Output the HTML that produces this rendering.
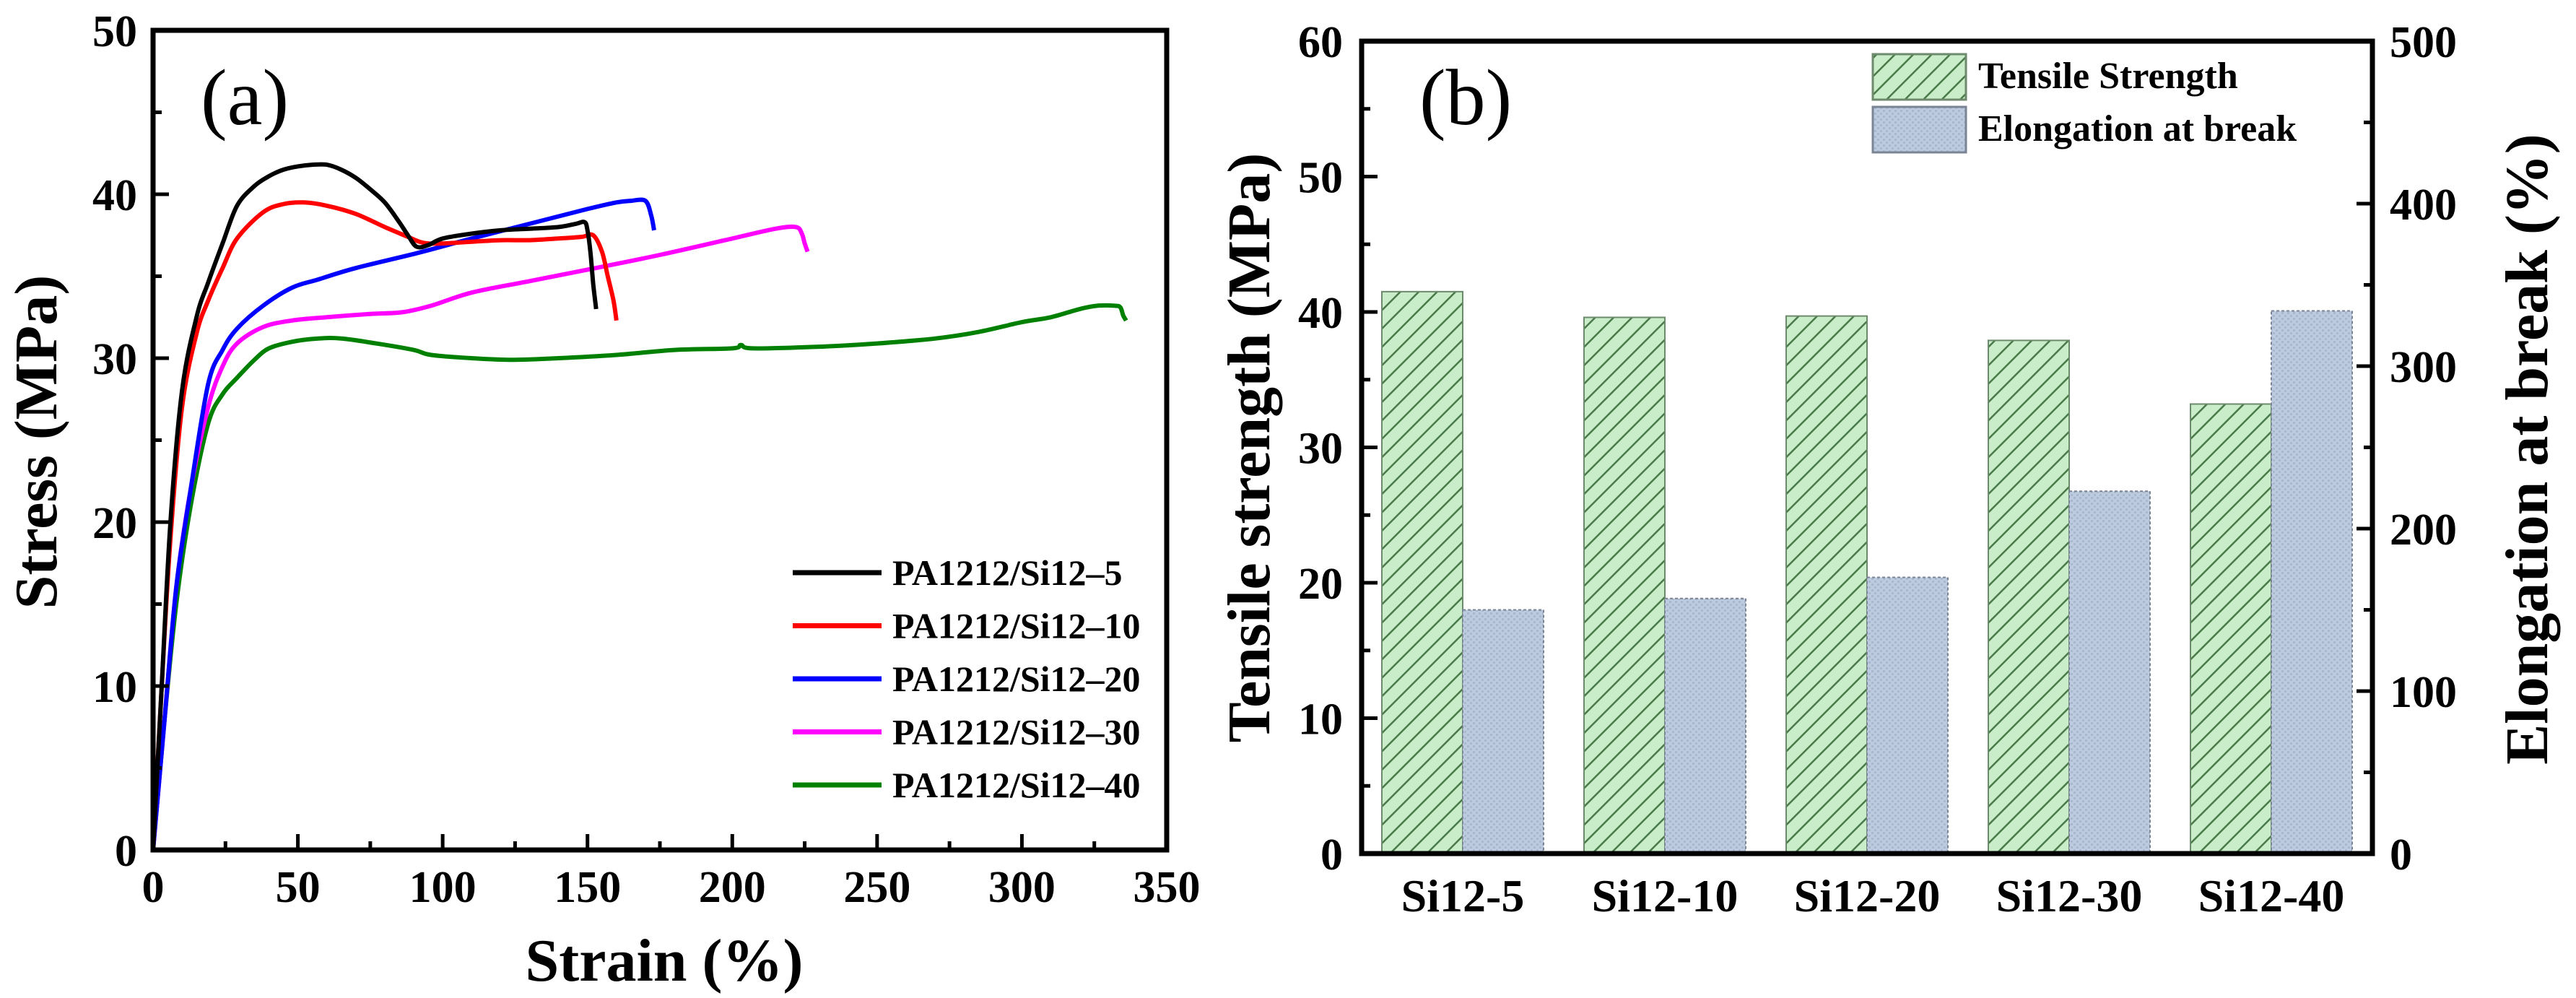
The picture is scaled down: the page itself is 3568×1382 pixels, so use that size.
<!DOCTYPE html>
<html><head><meta charset="utf-8"><style>
html,body{margin:0;padding:0;background:#fff;}
svg{display:block;font-family:"Liberation Serif",serif;}
</style></head><body>
<svg id="fig" width="3568" height="1382" viewBox="0 0 3568 1382" xmlns="http://www.w3.org/2000/svg">
<defs>
<pattern id="hatch" width="18" height="18" patternUnits="userSpaceOnUse" patternTransform="rotate(45)">
<rect width="18" height="18" fill="#c9ecc9"/><line x1="0" y1="0" x2="0" y2="18" stroke="#4a7a4a" stroke-width="5"/></pattern>
<pattern id="dots" width="8" height="8" patternUnits="userSpaceOnUse">
<rect width="8" height="8" fill="#bccbdf"/><rect x="0" y="0" width="3" height="3" fill="#a9b8cc"/><rect x="4" y="4" width="3" height="3" fill="#a9b8cc"/></pattern>
</defs>
<g id="pa"></g>
<g id="pb"></g>
</svg>
<script>
// ---- Panel (a) data ----
const seriesNames=["PA1212/Si12\u20135","PA1212/Si12\u201310","PA1212/Si12\u201320","PA1212/Si12\u201330","PA1212/Si12\u201340"];
const seriesColors=["#000000","#ff0000","#0000ff","#ff00ff","#008000"];
const strain5=[0,3,6,10,15,19,24,29,35,40,45,50,55,60,65,70,75,80,85,88,91,95,100,110,120,130,140,146,149,150,151,152,153];
const stress5=[0,10,20,28,32.5,34.6,37,39.3,40.5,41.1,41.5,41.7,41.8,41.8,41.5,41,40.3,39.5,38.3,37.5,36.8,36.9,37.3,37.6,37.8,37.9,38,38.2,38.3,37.8,36.5,34.5,33];
const strain10=[0,3,6,10,15,19,24,29,38,45,52,60,70,80,88,92,95,100,110,120,130,140,148,152,155,157,159,160];
const stress10=[0,10,19,27,31.5,33.5,35.5,37.3,38.9,39.4,39.5,39.3,38.8,38,37.4,37.1,37,37,37.1,37.2,37.2,37.3,37.4,37.5,36.5,35,33.5,32.3];
const strain20=[0,4,8,13,19,24,29,38,48,57,70,91,110,130,150,160,165,170,172,173];
const stress20=[0,8,16,22,28.4,30.5,31.8,33.2,34.3,34.8,35.5,36.4,37.3,38.2,39.1,39.5,39.6,39.6,38.7,37.8];
const strain30=[0,4,8,13,19,24,29,38,48,60,75,86,96,110,130,150,175,200,215,222,224,225,226];
const stress30=[0,8,16,22,27,29.5,30.9,31.9,32.3,32.5,32.7,32.8,33.2,34,34.7,35.4,36.3,37.3,37.9,38,37.6,37,36.5];
const strain40=[0,4,8,13,19,24,29,35,40,48,57,65,77,90,96,110,124,140,160,180,200,203,207,230,250,270,285,300,310,320,326,332,334,335,336];
const stress40=[0,8,15,21,26,27.8,28.8,29.9,30.6,31,31.2,31.2,30.9,30.5,30.2,30,29.9,30,30.2,30.5,30.6,30.8,30.6,30.7,30.9,31.2,31.6,32.2,32.5,33,33.2,33.2,33.1,32.6,32.3];
const xTicksA=[0,50,100,150,200,250,300,350];
const yTicksA=[0,10,20,30,40,50];
// ---- Panel (b) data ----
const categories=["Si12-5","Si12-10","Si12-20","Si12-30","Si12-40"];
const tensile=[41.5,39.6,39.7,37.9,33.2];
const elongation=[150,157,170,223,334];
const yTicksBL=[0,10,20,30,40,50,60];
const yTicksBR=[0,100,200,300,400,500];

const NS="http://www.w3.org/2000/svg";
function mk(tag,attrs,parent,text){const e=document.createElementNS(NS,tag);for(const k in attrs)e.setAttribute(k,attrs[k]);if(text!==undefined)e.textContent=text;parent.appendChild(e);return e;}
function smooth(pts){
  let d='M'+pts[0][0].toFixed(1)+' '+pts[0][1].toFixed(1);
  for(let i=0;i<pts.length-1;i++){
    const p0=pts[Math.max(0,i-1)],p1=pts[i],p2=pts[i+1],p3=pts[Math.min(pts.length-1,i+2)];
    const c1=[p1[0]+(p2[0]-p0[0])/6,p1[1]+(p2[1]-p0[1])/6];
    const c2=[p2[0]-(p3[0]-p1[0])/6,p2[1]-(p3[1]-p1[1])/6];
    d+=' C'+c1[0].toFixed(1)+' '+c1[1].toFixed(1)+' '+c2[0].toFixed(1)+' '+c2[1].toFixed(1)+' '+p2[0].toFixed(1)+' '+p2[1].toFixed(1);
  }
  return d;
}

// Panel a
const pa=document.getElementById('pa');
const AX0=212,AX1=1616,AY0=1177,AY1=42;
const xa=v=>AX0+(v-0)/350*(AX1-AX0);
const ya=v=>AY0-(v/50)*(AY0-AY1);
const sx=[strain5,strain10,strain20,strain30,strain40], sy=[stress5,stress10,stress20,stress30,stress40];
for(let s=4;s>=0;s--){
  const pts=sx[s].map((v,i)=>[xa(v),ya(sy[s][i])]);
  const p=mk('path',{d:smooth(pts),fill:'none',stroke:seriesColors[s],'stroke-width':6,'stroke-linejoin':'round'},pa);
  
  
}
let fr=mk('rect',{x:AX0,y:AY1,width:AX1-AX0,height:AY0-AY1,fill:'none',stroke:'#000','stroke-width':7},pa);


for(let v=0;v<=350;v+=25){const major=v%50===0;mk('line',{x1:xa(v),x2:xa(v),y1:AY0,y2:AY0-(major?22:12),stroke:'#000','stroke-width':5},pa);}
for(let v=0;v<=50;v+=5){const major=v%10===0;mk('line',{x1:AX0,x2:AX0+(major?22:12),y1:ya(v),y2:ya(v),stroke:'#000','stroke-width':5},pa);}
xTicksA.forEach(v=>{const t=mk('text',{x:xa(v),y:AY0+72,'font-size':62,'font-weight':'bold','text-anchor':'middle'},pa,String(v));
  
  });
yTicksA.forEach(v=>{const t=mk('text',{x:AX0-22,y:ya(v)+22,'font-size':62,'font-weight':'bold','text-anchor':'end'},pa,String(v));
  
  });
let t=mk('text',{x:920,y:1358,'font-size':84,'font-weight':'bold','text-anchor':'middle'},pa,'Strain (%)');


t=mk('text',{x:0,y:0,'font-size':84,'font-weight':'bold','text-anchor':'middle',transform:'translate(78,612) rotate(-90)'},pa,'Stress (MPa)');


t=mk('text',{x:278,y:172,'font-size':110},pa,'(a)');


seriesNames.forEach((n,i)=>{const y=793+i*73.5;
  const g=mk('g',{},pa);
  
  
  mk('line',{x1:1098,x2:1221,y1:y,y2:y,stroke:seriesColors[i],'stroke-width':7},g);
  mk('text',{x:1236,y:y+17,'font-size':50,'font-weight':'bold'},g,n);});

// Panel b
const pb=document.getElementById('pb');
const BX0=1886,BX1=3286,BY0=1182,BY1=57;
const yl=v=>BY0-v/60*(BY0-BY1);
const yr=v=>BY0-v/500*(BY0-BY1);
const step=(BX1-BX0)/categories.length, bw=step*0.4;
categories.forEach((c,i)=>{const cx=BX0+step*(i+0.5);
  let r=mk('rect',{x:cx-bw,y:yl(tensile[i]),width:bw,height:BY0-yl(tensile[i]),fill:'url(#hatch)',stroke:'#6d8a6d','stroke-width':2},pb);
  
  
  r=mk('rect',{x:cx,y:yr(elongation[i]),width:bw,height:BY0-yr(elongation[i]),fill:'url(#dots)',stroke:'#7a8494','stroke-width':2,'stroke-dasharray':'4 3'},pb);
  
  
  const l=mk('text',{x:cx,y:BY0+80,'font-size':64,'font-weight':'bold','text-anchor':'middle'},pb,c);
  
  
});
fr=mk('rect',{x:BX0,y:BY1,width:BX1-BX0,height:BY0-BY1,fill:'none',stroke:'#000','stroke-width':7},pb);


for(let v=0;v<=60;v+=5){const major=v%10===0;mk('line',{x1:BX0,x2:BX0+(major?22:12),y1:yl(v),y2:yl(v),stroke:'#000','stroke-width':5},pb);}
for(let v=0;v<=500;v+=50){const major=v%100===0;mk('line',{x1:BX1,x2:BX1-(major?22:12),y1:yr(v),y2:yr(v),stroke:'#000','stroke-width':5},pb);}
yTicksBL.forEach(v=>{const e=mk('text',{x:BX0-26,y:yl(v)+22,'font-size':62,'font-weight':'bold','text-anchor':'end'},pb,String(v));
  
  });
yTicksBR.forEach(v=>{const e=mk('text',{x:BX1+24,y:yr(v)+22,'font-size':62,'font-weight':'bold'},pb,String(v));
  
  });
t=mk('text',{x:0,y:0,'font-size':84,'font-weight':'bold','text-anchor':'middle',transform:'translate(1758,620) rotate(-90)'},pb,'Tensile strength (MPa)');


t=mk('text',{x:0,y:0,'font-size':84,'font-weight':'bold','text-anchor':'middle',transform:'translate(3528,622) rotate(-90)'},pb,'Elongation at break (%)');


t=mk('text',{x:1966,y:172,'font-size':110},pb,'(b)');


[['url(#hatch)','#6d8a6d','Tensile Strength',75],['url(#dots)','#7a8494','Elongation at break',148]].forEach(a=>{
  const g=mk('g',{},pb);
  
  
  mk('rect',{x:2594,y:a[3],width:129,height:63,fill:a[0],stroke:a[1],'stroke-width':3},g);
  mk('text',{x:2740,y:a[3]+47,'font-size':52,'font-weight':'bold'},g,a[2]);});
</script>
</body></html>
